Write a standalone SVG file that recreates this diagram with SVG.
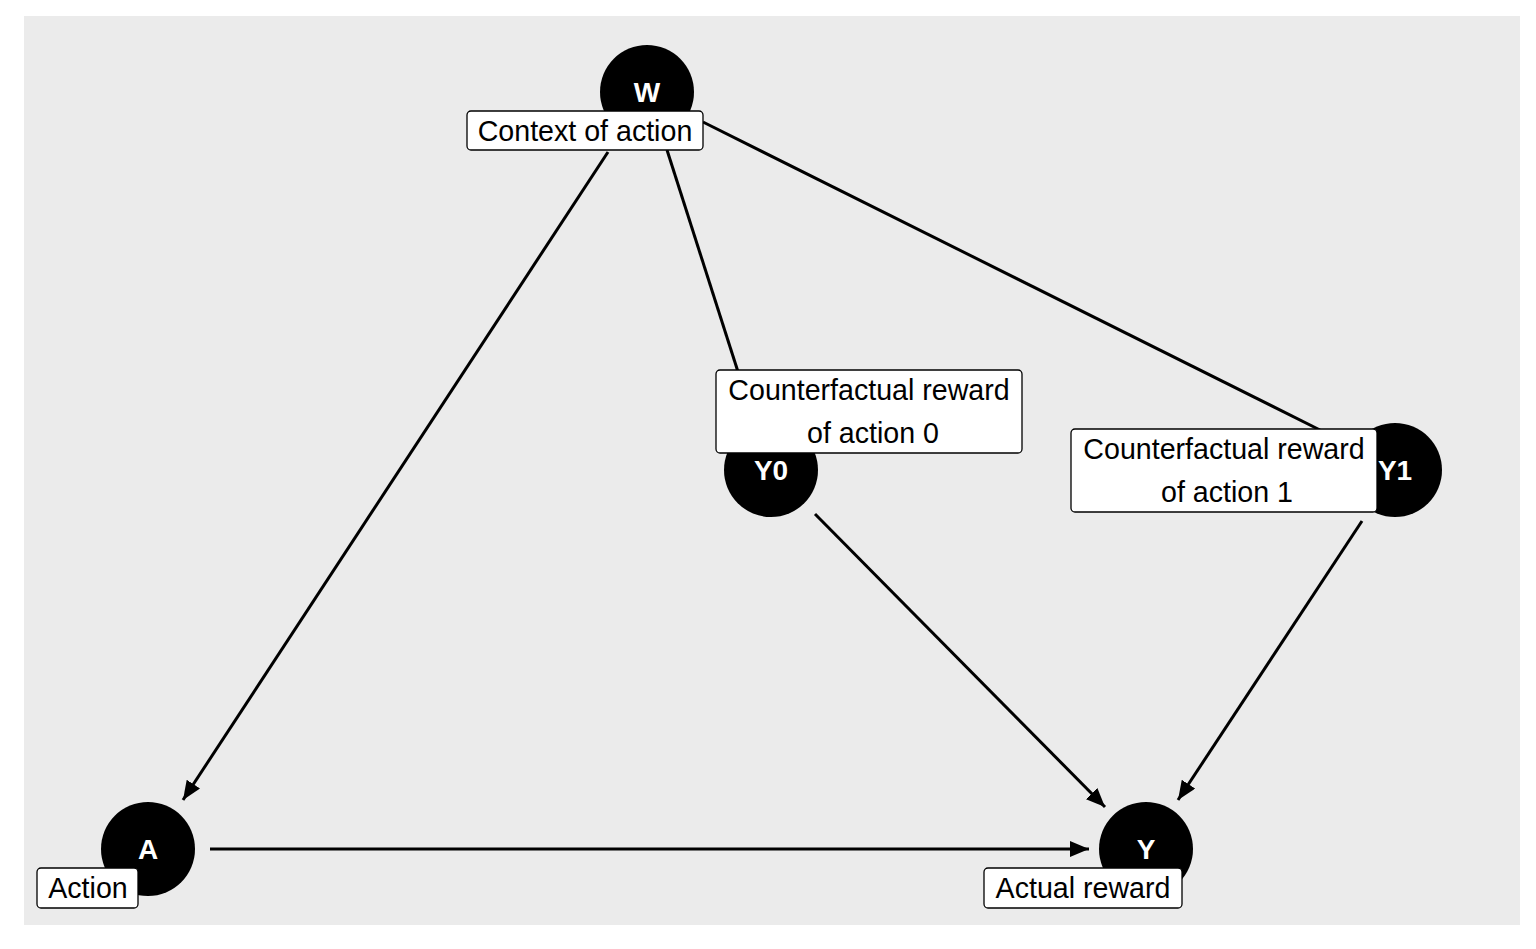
<svg xmlns="http://www.w3.org/2000/svg" width="1536" height="949" viewBox="0 0 1536 949">
<style>
.edge{stroke:#000;stroke-width:3;fill:none}
.node{fill:#000}
.nl{font-family:"Liberation Sans",Arial,sans-serif;font-weight:bold;font-size:28px;fill:#fff;text-anchor:middle}
.box{fill:#fff;stroke:#000;stroke-width:1.3}
.lt{font-family:"Liberation Sans",Arial,sans-serif;font-size:28.6px;fill:#000;text-anchor:middle}
</style>
<defs>
<marker id="arr" markerUnits="userSpaceOnUse" markerWidth="20" markerHeight="16" viewBox="0 0 20 16" refX="19" refY="8" orient="auto">
<path d="M0,0 L19,8 L0,16 Z" fill="#000"/>
</marker>
</defs>
<rect x="0" y="0" width="1536" height="949" fill="#fff"/>
<rect x="24" y="16" width="1496" height="909" fill="#EBEBEB"/>
<g id="connectors">
<line class="edge" x1="608" y1="152" x2="183" y2="800" marker-end="url(#arr)"/>
<line class="edge" x1="667" y1="150" x2="740" y2="378"/>
<line class="edge" x1="703" y1="122" x2="1320" y2="430"/>
<line class="edge" x1="815" y1="514" x2="1105" y2="807" marker-end="url(#arr)"/>
<line class="edge" x1="1362" y1="521" x2="1178" y2="800" marker-end="url(#arr)"/>
<line class="edge" x1="210" y1="849" x2="1089" y2="849" marker-end="url(#arr)"/>
</g>
<g id="node-W">
<circle class="node" cx="647" cy="92" r="47"/>
<text class="nl" x="647" y="102">W</text>
</g>
<g id="node-Y0">
<circle class="node" cx="771" cy="470" r="47"/>
<text class="nl" x="771" y="480">Y0</text>
</g>
<g id="node-Y1">
<circle class="node" cx="1395" cy="470" r="47"/>
<text class="nl" x="1395" y="480">Y1</text>
</g>
<g id="node-A">
<circle class="node" cx="148" cy="849" r="47"/>
<text class="nl" x="148" y="859">A</text>
</g>
<g id="node-Y">
<circle class="node" cx="1146" cy="849" r="47"/>
<text class="nl" x="1146" y="859">Y</text>
</g>
<g id="label-W">
<rect class="box" x="467" y="111" width="236" height="39" rx="4"/>
<text class="lt" x="585" y="141">Context of action</text>
</g>
<g id="label-Y0">
<rect class="box" x="716" y="370" width="306" height="83" rx="4"/>
<text class="lt" x="869" y="400">Counterfactual reward</text>
<text class="lt" x="873" y="443">of action 0</text>
</g>
<g id="label-Y1">
<rect class="box" x="1071" y="429" width="306" height="83" rx="4"/>
<text class="lt" x="1224" y="459">Counterfactual reward</text>
<text class="lt" x="1227" y="502">of action 1</text>
</g>
<g id="label-A">
<rect class="box" x="37" y="868" width="101" height="40" rx="4"/>
<text class="lt" x="88" y="898">Action</text>
</g>
<g id="label-Y">
<rect class="box" x="984" y="868" width="198" height="40" rx="4"/>
<text class="lt" x="1083" y="898">Actual reward</text>
</g>
</svg>
